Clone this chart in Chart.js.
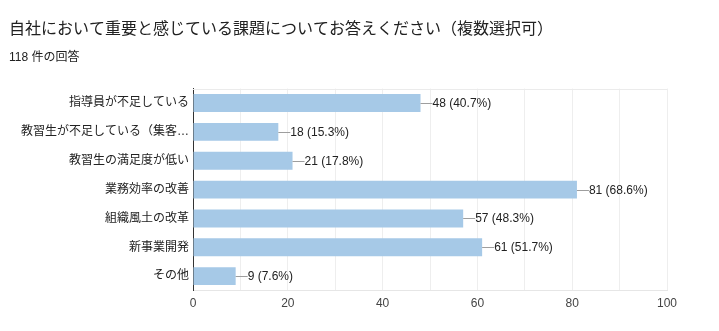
<!DOCTYPE html>
<html>
<head>
<meta charset="utf-8">
<script src="https://cdn.jsdelivr.net/npm/chart.js@4.4.0/dist/chart.umd.min.js"></script>
<style>
  html, body { margin: 0; padding: 0; background: #fff; }
  #wrap { width: 719px; height: 331px; }
</style>
</head>
<body>
<div id="wrap"><canvas id="answersChart" width="719" height="331"></canvas></div>
<script>
const titleText = '自社において重要と感じている課題についてお答えください（複数選択可）';
const subtitleText = '118 件の回答';

const categories = [
    '指導員が不足している',
    '教習生が不足している（集客…',
    '教習生の満足度が低い',
    '業務効率の改善',
    '組織風土の改革',
    '新事業開発',
    'その他'
];
const counts = [48, 18, 21, 81, 57, 61, 9];
const percents = ['40.7', '15.3', '17.8', '68.6', '48.3', '51.7', '7.6'];
const xTicks = [0, 20, 40, 60, 80, 100];

const fontFamily = "Arial, 'Liberation Sans', 'Noto Sans CJK JP', sans-serif";

// value labels with a short connector line after each bar
const valueLabels = {
    id: 'valueLabels',
    afterDatasetsDraw(chart) {
        const ctx = chart.ctx;
        const meta = chart.getDatasetMeta(0);
        ctx.save();
        ctx.font = '12px ' + fontFamily;
        ctx.textBaseline = 'middle';
        ctx.textAlign = 'left';
        meta.data.forEach((bar, i) => {
            const x = bar.x;
            const y = Math.round(bar.y) + 0.5;
            ctx.strokeStyle = '#9e9e9e';
            ctx.lineWidth = 1;
            ctx.beginPath();
            ctx.moveTo(x, y);
            ctx.lineTo(x + 12, y);
            ctx.stroke();
            ctx.fillStyle = '#222';
            ctx.fillText(counts[i] + ' (' + percents[i] + '%)', x + 12, y);
        });
        ctx.restore();
    }
};

// light frame round the plot area (top edge)
const frame = {
    id: 'frame',
    beforeDatasetsDraw(chart) {
        const a = chart.chartArea;
        const ctx = chart.ctx;
        ctx.save();
        ctx.strokeStyle = '#ebebeb';
        ctx.lineWidth = 1;
        ctx.beginPath();
        ctx.moveTo(a.left, Math.round(a.top) + 0.5);
        ctx.lineTo(a.right, Math.round(a.top) + 0.5);
        ctx.stroke();
        ctx.restore();
    }
};

const answersChart = new Chart(document.getElementById('answersChart').getContext('2d'), {
    type: 'bar',
    data: {
        labels: categories,
        datasets: [{
            data: counts,
            backgroundColor: '#a6c9e7',
            borderWidth: 0,
            barPercentage: 0.62,
            categoryPercentage: 1
        }]
    },
    options: {
        indexAxis: 'y',
        responsive: false,
        animation: false,
        layout: { padding: { left: 9, right: 52, top: 0, bottom: 14 } },
        plugins: {
            legend: { display: false },
            tooltip: { enabled: false },
            title: {
                display: true,
                text: titleText,
                align: 'start',
                color: '#212121',
                font: { family: fontFamily, size: 16, weight: 'normal' },
                padding: { top: 20, bottom: 11 }
            },
            subtitle: {
                display: true,
                text: subtitleText,
                align: 'start',
                color: '#212121',
                font: { family: fontFamily, size: 12 },
                padding: { top: 0, bottom: 24 }
            }
        },
        scales: {
            x: {
                min: 0,
                max: 100,
                ticks: {
                    stepSize: 10,
                    color: '#444',
                    padding: 6,
                    font: { family: fontFamily, size: 12 },
                    callback: v => xTicks.includes(v) ? v : ''
                },
                grid: { color: '#eeeeee', drawTicks: false },
                border: { color: '#e6e6e6' }
            },
            y: {
                ticks: {
                    color: '#222',
                    padding: 4,
                    font: { family: fontFamily, size: 12 }
                },
                grid: { display: false, drawTicks: false },
                border: { color: '#333', width: 1 },
                afterFit: scale => { scale.width = 184; }
            }
        }
    },
    plugins: [frame, valueLabels]
});
</script>
</body>
</html>
